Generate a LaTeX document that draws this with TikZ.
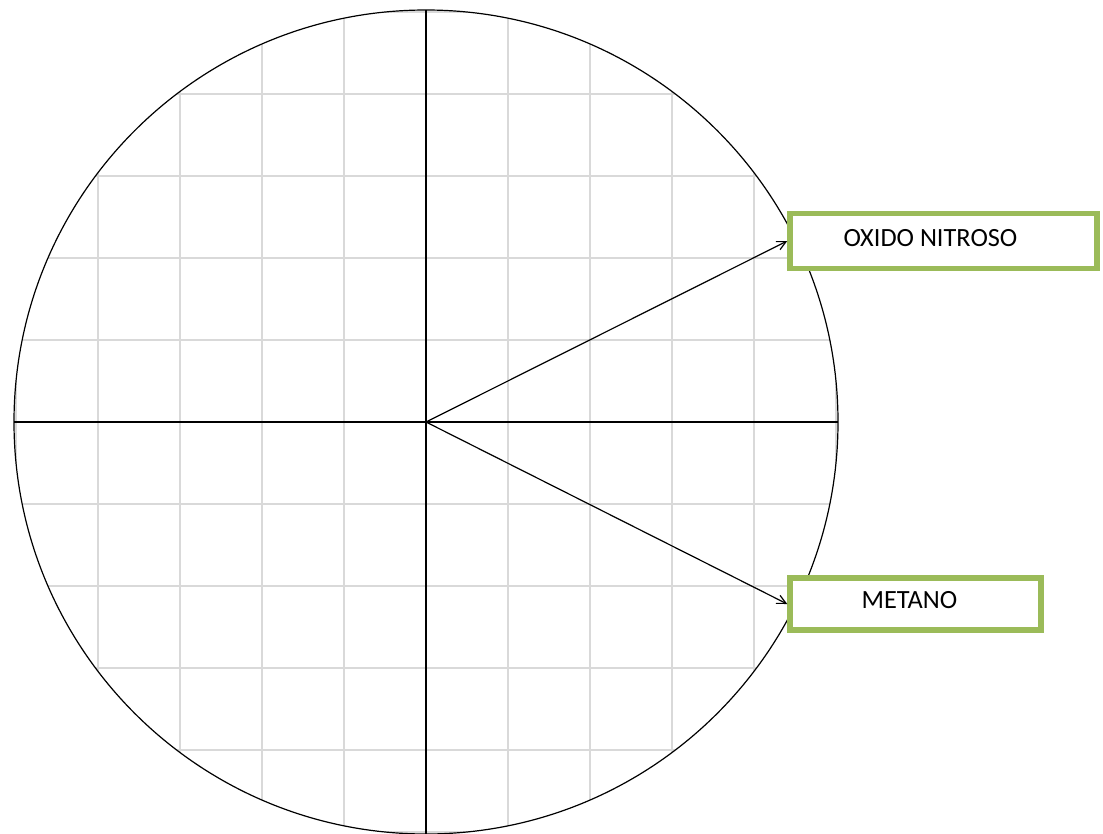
\documentclass[tikz,border=0pt]{standalone}
\usepackage{fontspec}
\setmainfont{Carlito}
\usetikzlibrary{positioning,arrows.meta}
\definecolor{gasVerde}{HTML}{9BBB59}
\definecolor{gasGris}{HTML}{D9D9D9}

\begin{document}
\begin{tikzpicture}[x=1pt,y=-1pt,
          caja/.style={draw=gasVerde, line width=5.5pt, fill=white, inner sep=0pt},
          txt/.style={font=\fontsize{26.3}{29}\selectfont, inner sep=0pt},
          flecha/.style={-{Straight Barb[length=9pt,width=9pt]}, line width=1.2pt},
          every node/.style={align=center}]
        \useasboundingbox (0,0) rectangle (1103,833);
        \coordinate (o) at (426,422);
        % cuadricula
        \begin{scope}
          \clip (o) circle [radius=412pt];
          \foreach \k in {-5,...,5}{
            \draw[gasGris, line width=1.4pt] ({426+82*\k},0) -- ({426+82*\k},833);
            \draw[gasGris, line width=1.4pt] (0,{422+82*\k}) -- (1103,{422+82*\k});
          }
        \end{scope}
        % ejes y circulo
        \coordinate (izq) at (14,422);
        \coordinate (der) at (838,422);
        \coordinate (arr) at (426,10);
        \coordinate (aba) at (426,834);
        \draw[line width=1.4pt] (izq) -- (der);
        \draw[line width=1.4pt] (arr) -- (aba);
        \draw[line width=1.2pt] (o) circle [radius=412pt];
        % gases
        \node[caja, minimum width=307pt, minimum height=55pt,
              label={[txt, xshift=-13pt, yshift=3pt]center:OXIDO NITROSO}] (oxido) at (943.5,241) {};
        \node[caja, minimum width=251pt, minimum height=52pt,
              label={[txt, xshift=-6pt, yshift=4pt]center:METANO}] (metano) at (915.5,604) {};
        \draw[flecha] (o) -- (oxido.west);
        \draw[flecha] (o) -- (metano.west);
      \end{tikzpicture}
\end{document}
